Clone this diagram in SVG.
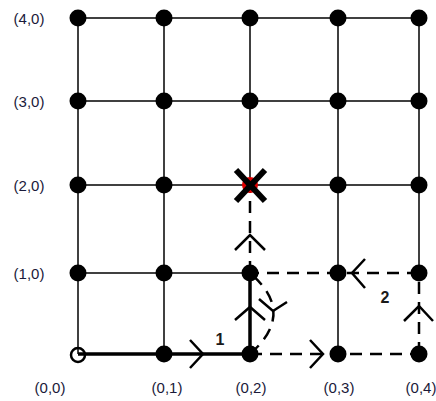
<svg xmlns="http://www.w3.org/2000/svg" width="436" height="401" viewBox="0 0 436 401">
<style>
.grid{stroke:#000;stroke-width:1.5;fill:none}
.dash{stroke:#000;stroke-width:2.5;fill:none;stroke-dasharray:12 8}
.bold{stroke:#000;stroke-width:3.5;fill:none}
.chev{stroke:#000;stroke-width:2.5;fill:none}
.node{fill:#000}
.lbl{font-family:"Liberation Sans",Arial,sans-serif;font-size:15px;fill:#1a1a3a;text-anchor:middle}
.num{font-family:"Liberation Sans",Arial,sans-serif;font-size:16px;font-weight:bold;fill:#1a1a1a;text-anchor:middle}
</style>
<rect width="436" height="401" fill="#fff"/>
<g id="connectors">
<g id="grid">
<line class="grid" x1="78" y1="18" x2="419" y2="18"/>
<line class="grid" x1="78" y1="101" x2="419" y2="101"/>
<line class="grid" x1="78" y1="185" x2="419" y2="185"/>
<line class="grid" x1="78" y1="273" x2="250" y2="273"/>
<line class="grid" x1="78" y1="18" x2="78" y2="354"/>
<line class="grid" x1="164" y1="18" x2="164" y2="354"/>
<line class="grid" x1="250" y1="18" x2="250" y2="185"/>
<line class="grid" x1="338" y1="18" x2="338" y2="354"/>
<line class="grid" x1="419" y1="18" x2="419" y2="273"/>
</g>
<g id="path2">
<line class="dash" x1="250" y1="354" x2="419" y2="354"/>
<line class="dash" x1="419" y1="354" x2="419" y2="273"/>
<line class="dash" x1="419" y1="273" x2="250" y2="273"/>
<line class="dash" x1="250" y1="273" x2="250" y2="185"/>
<path class="dash" d="M250,354 Q297,313 250,273"/>
<polyline class="chev" points="310,340 323,354 310,368"/>
<polyline class="chev" points="404,321 419,306 433,321"/>
<polyline class="chev" points="365,259 352,273 365,288"/>
<polyline class="chev" points="235,250 250,235 265,250"/>
<polyline class="chev" points="259,299 273,311 287,302"/>
</g>
<g id="path1">
<polyline class="bold" points="78,354 250,354 250,273"/>
<polyline class="chev" points="190,340 203,354 190,368"/>
<polyline class="chev" points="235,320 250,307 265,320"/>
</g>
</g>
<g id="nodes">
<circle class="node" cx="78" cy="18" r="8.5"/><circle class="node" cx="164" cy="18" r="8.5"/><circle class="node" cx="250" cy="18" r="8.5"/><circle class="node" cx="338" cy="18" r="8.5"/><circle class="node" cx="419" cy="18" r="8.5"/>
<circle class="node" cx="78" cy="101" r="8.5"/><circle class="node" cx="164" cy="101" r="8.5"/><circle class="node" cx="250" cy="101" r="8.5"/><circle class="node" cx="338" cy="101" r="8.5"/><circle class="node" cx="419" cy="101" r="8.5"/>
<circle class="node" cx="78" cy="185" r="8.5"/><circle class="node" cx="164" cy="185" r="8.5"/><circle cx="250" cy="185" r="8" fill="#e00000"/><circle class="node" cx="338" cy="185" r="8.5"/><circle class="node" cx="419" cy="185" r="8.5"/>
<circle class="node" cx="78" cy="273" r="8.5"/><circle class="node" cx="164" cy="273" r="8.5"/><circle class="node" cx="250" cy="273" r="8.5"/><circle class="node" cx="338" cy="273" r="8.5"/><circle class="node" cx="419" cy="273" r="8.5"/>
<circle cx="78" cy="355" r="7" fill="none" stroke="#000" stroke-width="2.5"/><circle class="node" cx="164" cy="354" r="8.5"/><circle class="node" cx="250" cy="354" r="8.5"/><circle class="node" cx="338" cy="354" r="8.5"/><circle class="node" cx="419" cy="354" r="8.5"/>
</g>
<g id="blocked">
<line x1="236" y1="170" x2="265" y2="201" stroke="#000" stroke-width="6"/>
<line x1="236" y1="201" x2="265" y2="170" stroke="#000" stroke-width="6"/>
</g>
<g id="labels">
<text class="lbl" x="29" y="24">(4,0)</text>
<text class="lbl" x="29" y="107">(3,0)</text>
<text class="lbl" x="29" y="191">(2,0)</text>
<text class="lbl" x="29" y="279">(1,0)</text>
<text class="lbl" x="50" y="393">(0,0)</text>
<text class="lbl" x="167" y="393">(0,1)</text>
<text class="lbl" x="251" y="393">(0,2)</text>
<text class="lbl" x="339" y="393">(0,3)</text>
<text class="lbl" x="421" y="393">(0,4)</text>
<text class="num" x="220" y="345">1</text>
<text class="num" x="385" y="303">2</text>
</g>
</svg>
